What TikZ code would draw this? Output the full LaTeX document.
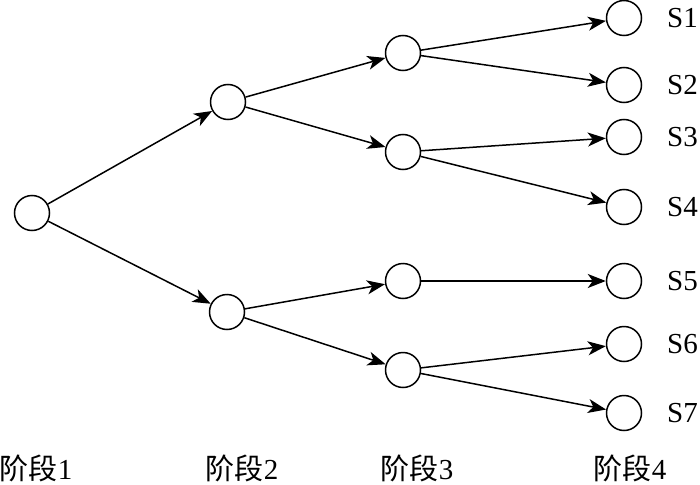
\documentclass[tikz,border=0pt]{standalone}
\usepackage{fontspec}
\setmainfont{Liberation Serif}
\newfontfamily\cjk{Noto Sans CJK SC}
\usetikzlibrary{arrows.meta}
\begin{document}
\begin{tikzpicture}[x=1pt,y=-1pt,
  st/.style={circle,draw,line width=1.5pt,minimum size=35pt,inner sep=0pt},
  ar/.style={line width=1.5pt,-{Stealth[length=18pt,width=14pt,inset=5pt]}},
  lab/.style={font=\fontsize{29}{31}\selectfont,anchor=west,inner sep=0pt},
  stage/.style={font=\fontsize{29}{31}\selectfont,inner sep=0pt}]
\useasboundingbox (0,0) rectangle (700,484);
\node[st] (r) at (32,213) {};
\node[st] (b1) at (228,102) {};
\node[st] (b2) at (227,312) {};
\node[st] (c1) at (403,53) {};
\node[st] (c2) at (403,152) {};
\node[st] (c3) at (403,281) {};
\node[st] (c4) at (403,370) {};
\node[st] (s1) at (624,18) {};
\node[st] (s2) at (624,85) {};
\node[st] (s3) at (624,137) {};
\node[st] (s4) at (624,207) {};
\node[st] (s5) at (624,281) {};
\node[st] (s6) at (624,344) {};
\node[st] (s7) at (624,413) {};
\draw[ar] (r) -- (b1);
\draw[ar] (r) -- (b2);
\draw[ar] (b1) -- (c1);
\draw[ar] (b1) -- (c2);
\draw[ar] (b2) -- (c3);
\draw[ar] (b2) -- (c4);
\draw[ar] (c1) -- (s1);
\draw[ar] (c1) -- (s2);
\draw[ar] (c2) -- (s3);
\draw[ar] (c2) -- (s4);
\draw[ar] (c3) -- (s5);
\draw[ar] (c4) -- (s6);
\draw[ar] (c4) -- (s7);
\node[lab] (l1) at (667,18) {S1};
\node[lab] (l2) at (667,85) {S2};
\node[lab] (l3) at (667,137) {S3};
\node[lab] (l4) at (667,207) {S4};
\node[lab] (l5) at (667,281) {S5};
\node[lab] (l6) at (667,344) {S6};
\node[lab] (l7) at (667,413) {S7};
\node[stage] (p1) at (36,468) {{\cjk 阶段}1};
\node[stage] (p2) at (242,468) {{\cjk 阶段}2};
\node[stage] (p3) at (417,468) {{\cjk 阶段}3};
\node[stage] (p4) at (630,468) {{\cjk 阶段}4};
\end{tikzpicture}
\end{document}
